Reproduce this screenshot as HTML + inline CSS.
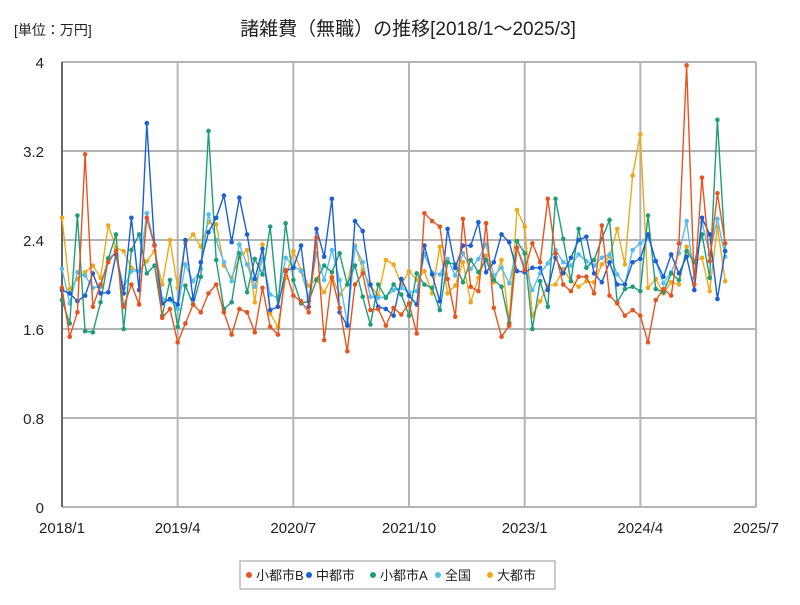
<!DOCTYPE html>
<html><head><meta charset="utf-8"><style>
body{margin:0;background:#fff;font-family:"Liberation Sans","Noto Sans CJK JP",sans-serif;}
svg text{font-family:"Liberation Sans","Noto Sans CJK JP",sans-serif;}
</style></head><body>
<svg id="chart" width="800" height="600" xmlns="http://www.w3.org/2000/svg">
<rect width="800" height="600" fill="#fff"/>
<text x="14" y="35" font-size="14" fill="#222">[単位：万円]</text>
<text x="408" y="35" font-size="19" text-anchor="middle" fill="#222">諸雑費（無職）の推移[2018/1～2025/3]</text>
<g id="grid"></g>
<g id="series"></g>
<g id="legend">
<rect x="240" y="561" width="315" height="28" fill="#fff" stroke="#999"/>
</g>
</svg>
<script>
const xTickLabels=["2018/1","2019/4","2020/7","2021/10","2023/1","2024/4","2025/7"];
const yTickValues=[0,0.8,1.6,2.4,3.2,4];
const yTickLabels=["0","0.8","1.6","2.4","3.2","4"];
const seriesNames=["小都市B","中都市","小都市A","全国","大都市"];
const seriesColors=["#e8541e","#1a5fd9","#1e9e78","#56bdf0","#f0a818"];
const valuesSmallB=[1.97,1.53,1.75,3.17,1.80,2.00,2.20,2.30,1.80,2.00,1.82,2.60,2.35,1.70,1.78,1.48,1.65,1.82,1.75,1.92,2.00,1.75,1.55,1.78,1.75,1.57,1.97,1.62,1.55,2.13,1.90,1.85,1.75,2.42,1.50,2.06,1.79,1.40,2.00,2.10,1.77,1.78,1.63,1.79,1.73,1.83,1.56,2.64,2.57,2.52,2.05,1.71,2.59,1.98,1.94,2.55,1.79,1.53,1.63,2.33,2.13,2.37,2.20,2.77,2.28,2.00,1.94,2.07,2.07,1.92,2.53,1.90,1.83,1.72,1.77,1.72,1.48,1.86,1.96,1.90,2.37,3.97,2.00,2.96,2.21,2.82,2.37];
const valuesMid=[1.95,1.92,1.85,1.90,2.10,1.92,1.93,2.27,1.92,2.60,1.95,3.45,2.35,1.83,1.87,1.82,2.40,1.87,2.20,2.47,2.60,2.80,2.38,2.78,2.45,2.05,2.32,1.77,1.80,2.12,2.15,2.35,1.80,2.50,2.25,2.77,1.75,1.63,2.57,2.48,2.00,1.80,1.78,1.72,2.05,1.90,1.82,2.35,2.09,1.85,2.50,2.15,2.35,2.35,2.56,2.11,2.20,2.45,2.38,2.12,2.11,2.15,2.15,1.95,2.24,2.10,2.24,2.40,2.43,2.10,2.02,2.20,2.00,2.00,2.20,2.23,2.45,2.21,2.07,2.27,2.10,2.25,1.95,2.60,2.45,1.87,2.30];
const valuesSmallA=[1.86,1.65,2.62,1.58,1.57,1.84,2.23,2.45,1.60,2.31,2.45,2.10,2.17,1.72,2.04,1.62,1.99,1.82,2.07,3.38,2.22,1.78,1.84,2.28,1.93,2.23,2.09,2.52,1.80,2.55,2.04,1.83,1.85,2.04,2.17,2.11,2.28,2.00,2.17,1.89,1.64,2.00,1.88,2.00,1.91,1.72,2.10,2.00,1.97,1.77,2.20,2.18,2.02,2.22,2.11,2.22,2.04,1.98,1.65,2.39,2.28,1.60,2.03,1.80,2.77,2.41,2.03,2.50,2.15,2.22,2.41,2.58,1.84,1.96,1.98,1.94,2.62,1.96,1.93,2.10,2.04,2.30,2.20,2.45,2.06,3.48,2.30];
const valuesNational=[2.14,1.83,2.11,2.08,1.97,1.98,2.24,2.28,1.97,2.12,2.12,2.64,2.36,1.87,1.86,1.78,2.18,2.03,2.14,2.63,2.40,2.20,2.03,2.36,2.18,1.98,2.23,1.91,1.88,2.24,2.17,2.12,1.88,2.28,2.04,2.31,2.04,1.65,2.34,2.20,1.89,1.88,1.89,1.95,1.97,1.93,1.94,2.27,2.11,2.09,2.23,2.08,2.28,2.14,2.23,2.36,2.08,2.15,2.01,2.33,2.16,1.95,2.10,2.19,2.31,2.20,2.17,2.27,2.21,2.17,2.24,2.27,2.09,2.00,2.31,2.37,2.43,2.21,2.01,2.11,2.28,2.57,2.06,2.56,2.27,2.59,2.25];
const valuesLarge=[2.60,1.96,2.05,2.11,2.17,2.06,2.53,2.33,2.30,2.15,2.12,2.21,2.30,2.00,2.40,1.97,2.37,2.45,2.34,2.56,2.54,2.17,2.06,2.24,2.31,1.84,2.36,1.74,1.62,2.06,2.30,2.13,1.99,2.05,1.93,2.07,1.91,2.00,2.35,2.13,1.99,1.90,2.22,2.18,2.00,2.12,2.04,2.12,1.92,2.34,1.92,1.99,2.20,1.84,2.06,2.26,2.02,2.22,1.66,2.67,2.52,1.72,1.85,1.99,2.00,2.14,2.03,1.98,2.03,2.02,2.18,2.25,2.50,2.18,2.98,3.35,1.97,2.05,1.92,2.02,2.00,2.34,2.20,2.24,1.94,2.52,2.03];
const allSeries=[valuesSmallB,valuesMid,valuesSmallA,valuesNational,valuesLarge];
const seriesKeys=["small-city-b","mid-city","small-city-a","national","large-city"];

const NS="http://www.w3.org/2000/svg";
const L=62,R=756,T=62,B=507,totalMonths=90;
const xS=i=>L+(R-L)*i/totalMonths;
const yS=v=>B-(B-T)*v/4;
function mk(tag,attrs,parent){const e=document.createElementNS(NS,tag);for(const k in attrs)e.setAttribute(k,attrs[k]);parent.appendChild(e);return e;}
const grid=document.getElementById('grid');
yTickValues.forEach((v,k)=>{
  const ln=mk('line',{x1:L,x2:R,y1:yS(v),y2:yS(v),stroke:'#b4b4b4','stroke-width':2},grid);
  
  
  const t=mk('text',{x:44,y:yS(v)+6,'font-size':15,'text-anchor':'end',fill:'#222'},grid);
  t.textContent=yTickLabels[k];
  
  
});
xTickLabels.forEach((lab,k)=>{
  const x=xS(k*15);
  const ln=mk('line',{x1:x,x2:x,y1:T,y2:B,stroke:k==0?'#666':'#b4b4b4','stroke-width':2},grid);
  
  
  const t=mk('text',{x:x,y:533,'font-size':15,'text-anchor':'middle',fill:'#222'},grid);
  t.textContent=lab;
  
  
});
const sg=document.getElementById('series');
for(let s=allSeries.length-1;s>=0;s--){
  const g=mk('g',{},sg);
  
  
  const vals=allSeries[s];
  const pts=vals.map((v,i)=>xS(i).toFixed(1)+','+yS(v).toFixed(1)).join(' ');
  const pl=mk('polyline',{points:pts,fill:'none',stroke:seriesColors[s],'stroke-width':1.4},g);
  
  
  vals.forEach((v,i)=>{
    const c=mk('circle',{cx:xS(i),cy:yS(v),r:2.3,fill:seriesColors[s]},g);
    
    
  });
}
const lg=document.getElementById('legend');
const legX=[246,306,370,435,487];
seriesNames.forEach((n,k)=>{
  const g=mk('g',{},lg);
  
  
  mk('circle',{cx:legX[k]+3,cy:575,r:3,fill:seriesColors[k]},g);
  const t=mk('text',{x:legX[k]+10,y:580,'font-size':13,fill:'#222'},g);
  t.textContent=n;
});
</script>
</body></html>
